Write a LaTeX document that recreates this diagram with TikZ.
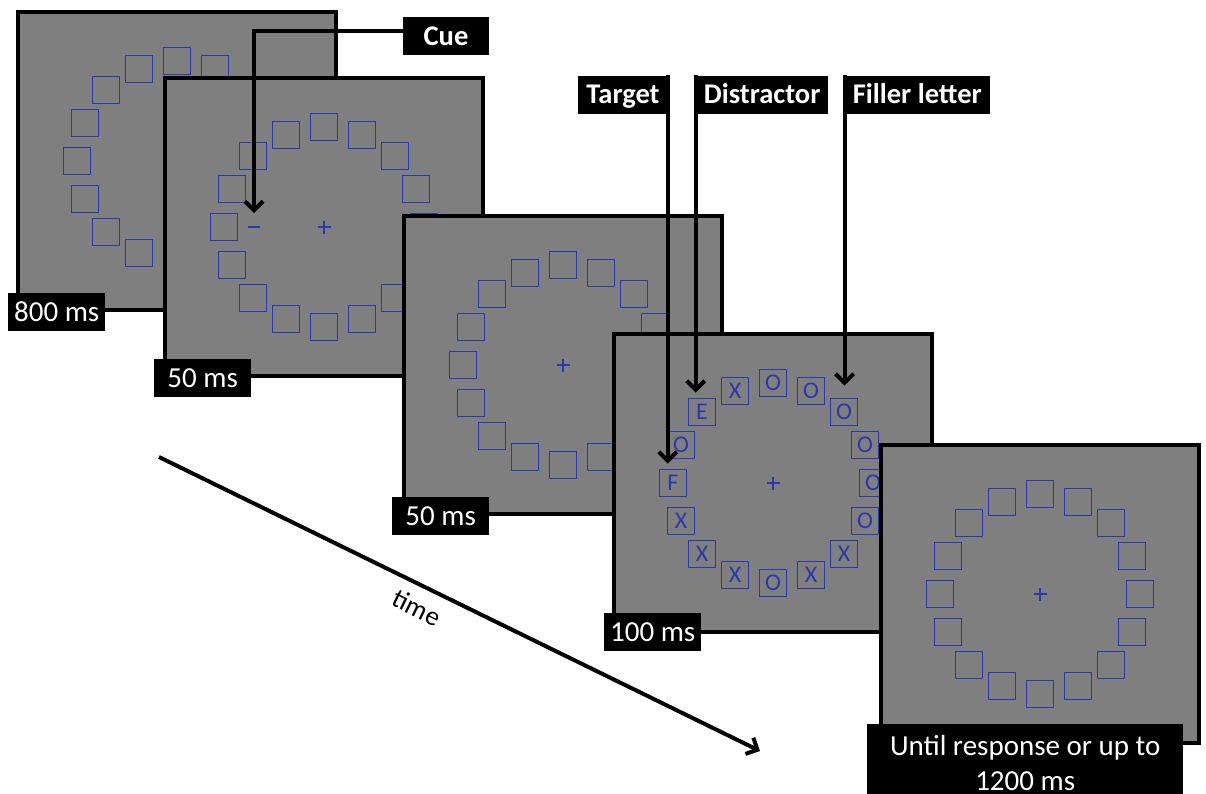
\documentclass[tikz,border=0pt]{standalone}
\usepackage{fontspec}
\setmainfont{Carlito}
\usetikzlibrary{arrows.meta,positioning}
\definecolor{screengray}{RGB}{127,127,127}
\definecolor{ringblue}{RGB}{44,56,170}

\begin{document}
\begin{tikzpicture}[
    x=1pt, y=-1pt,
    panel/.style={draw, line width=4pt, fill=screengray, minimum width=318pt, minimum height=298pt, inner sep=0pt},
    holder/.style={draw=ringblue, line width=1.8pt, minimum size=27pt, inner sep=0pt},
    letter/.style={text=ringblue, inner sep=0pt, font=\fontsize{24}{24}\selectfont},
    fixmark/.style={draw=ringblue, line width=1.5pt},
    timebox/.style={fill=black, text=white, minimum width=97pt, minimum height=38pt, inner sep=0pt, text height=24pt, text depth=6pt, font=\fontsize{29}{35}\selectfont},
    finalbox/.style={fill=black, text=white, minimum width=316pt, minimum height=78pt, inner sep=0pt, align=center, font=\fontsize{29}{35}\selectfont},
    callbox/.style={fill=black, text=white, minimum height=38pt, inner xsep=8pt, inner ysep=0pt, text height=24pt, text depth=6pt, font=\fontsize{28.5}{34}\selectfont\bfseries},
    callout/.style={line width=4pt, -{Straight Barb[length=9pt,width=18pt]}}
]
\useasboundingbox (0,0) rectangle (1206,793);

% stimulus screens, back to front
\foreach \n/\cx/\cy in {1/177/161, 2/324/227, 3/563/365, 4/773/483, 5/1040/594} {
  \node[panel] (p\n) at (\cx,\cy) {};
  \foreach \i in {0,...,15} {
    \pgfmathsetmacro\dx{round(100*cos(22.5*\i-90))}
    \pgfmathsetmacro\dy{round(100*sin(22.5*\i-90))}
    \node[holder] (p\n-\i) at ([shift={(\dx,\dy)}]p\n.center) {};
  }
  \draw[fixmark] ([xshift=-6.5pt]p\n.center) -- ([xshift=6.5pt]p\n.center)
                 ([yshift=-6.5pt]p\n.center) -- ([yshift=6.5pt]p\n.center);
  % search display letters, before the last screen covers them
  \ifnum\n=4
    \foreach \i/\l in {0/O,1/O,2/O,3/O,4/O,5/O,6/X,7/X,8/O,9/X,10/X,11/X,12/F,13/O,14/E,15/X}
      \node[letter] at (p4-\i) {\l};
  \fi
}

% cue mark
\coordinate (p2cue) at ([xshift=-70pt]p2.center);
\draw[fixmark] ([xshift=-6pt]p2cue) -- ([xshift=6pt]p2cue);

% durations
\node[timebox, anchor=west] (d1) at ([xshift=-8pt]p1.south west) {800 ms};
\node[timebox, anchor=west] (d2) at ([xshift=-9pt]p2.south west) {50 ms};
\node[timebox, anchor=west] (d3) at ([xshift=-10pt]p3.south west) {50 ms};
\node[timebox, anchor=west] (d4) at ([xshift=-8pt,yshift=2pt]p4.south west) {100 ms};
\node[finalbox, anchor=north west] (d5) at ([xshift=-12pt,yshift=21.5pt]p5.south west) {Until response or up to\\1200 ms};

% callouts
\node[callbox, minimum width=86pt] (cue) at (446,36) {Cue};
\node[callbox] (target) at (623,94.5) {Target};
\node[callbox, right=28pt of target] (distractor) {Distractor};
\node[callbox, right=16pt of distractor] (filler) {Filler letter};

\draw[callout] ([yshift=5pt]cue.west) -| ([yshift=14pt]p2cue);
\draw[callout, shorten >=5pt] (target.north east) -- (target.north east |- p4-12.north);
\draw[callout, shorten >=5pt] (distractor.north west) -- (distractor.north west |- p4-14.north);
\draw[callout, shorten >=12pt] (filler.north west) -- (filler.north west |- p4-2.north);

% time axis
\coordinate (t0) at (159,457);
\coordinate (t1) at (760,751);
\draw[callout] (t0) -- (t1);
\node[rotate=-26.07, inner sep=0pt, font=\fontsize{27}{27}\selectfont] (timelbl) at (416.7,607.6) {time};

\end{tikzpicture}
\end{document}
